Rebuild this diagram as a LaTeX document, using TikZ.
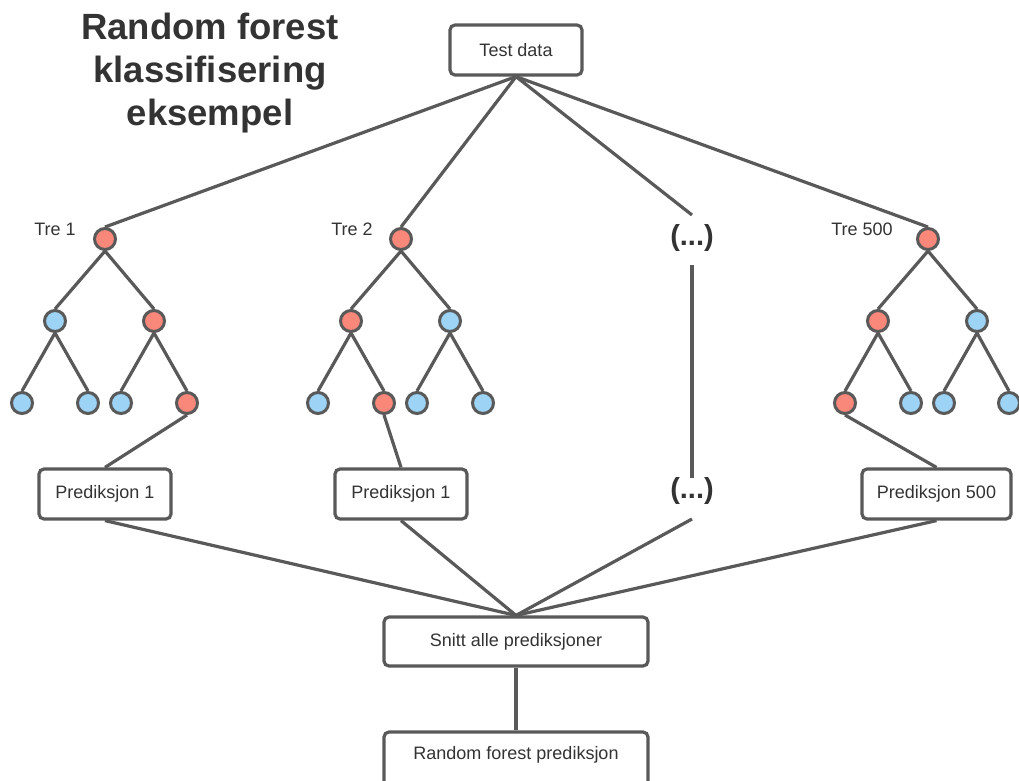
\documentclass[tikz,border=0pt]{standalone}
\usepackage{fontspec}
\setmainfont{Liberation Sans}
\usetikzlibrary{backgrounds}
\definecolor{ln}{HTML}{595959}
\definecolor{tx}{HTML}{333333}
\definecolor{rd}{HTML}{F9877A}
\definecolor{bl}{HTML}{9DD3F5}
\begin{document}
\begin{tikzpicture}[x=1pt,y=-1pt,
  box/.style={draw=ln,line width=3.2pt,fill=white,rounded corners=5pt,minimum width=132pt,minimum height=50pt,inner sep=0pt,text=tx,font=\fontsize{18}{21}\selectfont},
  wbox/.style={box,minimum width=264pt,minimum height=49pt},
  rn/.style={circle,draw=ln,line width=3pt,fill=rd,minimum size=21pt,inner sep=0pt},
  bn/.style={circle,draw=ln,line width=3pt,fill=bl,minimum size=21pt,inner sep=0pt},
  lbl/.style={text=tx,font=\fontsize{18}{21}\selectfont,inner sep=0pt},
  dots/.style={text=tx,font=\bfseries\fontsize{29}{33}\selectfont,inner sep=0pt},
  edge/.style={line width=3.2pt,draw=ln}]
\useasboundingbox (0,0) rectangle (1019,780);
\begin{scope}
\clip (0,0) rectangle (1019,780);
% title
\node[text=tx,font=\bfseries\fontsize{36.5}{43}\selectfont,align=center,inner sep=0pt] (title) at (210,73) {Random forest\\klassifisering\\eksempel};
% boxes
\node[box] (td) at (516,50) {Test data};
\node[box] (p1) at (105,494) {Prediksjon 1};
\node[box] (p2) at (401,494) {Prediksjon 1};
\node[box,minimum width=149pt] (p500) at (936.5,494) {Prediksjon 500};
\node[wbox] (snitt) at (516,641.5) {Snitt alle prediksjoner};
\node[wbox,minimum height=60pt] (rf) at (516,762) {};
\node[lbl] (rft) at (516,755) {Random forest prediksjon};
% dots
\node[dots] (d1) at (692,238) {(...)};
\node[dots] (d2) at (692,491) {(...)};
\coordinate (d1a) at (692,215);
\coordinate (d1b) at (692,265);
\coordinate (d2a) at (692,478);
\coordinate (d2b) at (692,519);
% labels
\node[lbl] (l1) at (55,229) {Tre 1};
\node[lbl] (l2) at (352,229) {Tre 2};
\node[lbl] (l500) at (862,229) {Tre 500};
% tree 1
\node[rn] (a0) at (105,239) {};
\node[bn] (a1) at (55,321) {};
\node[rn] (a2) at (154,321) {};
\node[bn] (a3) at (22,403) {};
\node[bn] (a4) at (88,403) {};
\node[bn] (a5) at (121,403) {};
\node[rn] (a6) at (187,403) {};
% tree 2
\node[rn] (b0) at (401,239) {};
\node[rn] (b1) at (351,321) {};
\node[bn] (b2) at (450,321) {};
\node[bn] (b3) at (318,403) {};
\node[rn] (b4) at (384,403) {};
\node[bn] (b5) at (417,403) {};
\node[bn] (b6) at (483,403) {};
% tree 500
\node[rn] (c0) at (928,239) {};
\node[rn] (c1) at (878,321) {};
\node[bn] (c2) at (977,321) {};
\node[rn] (c3) at (845,403) {};
\node[bn] (c4) at (911,403) {};
\node[bn] (c5) at (944,403) {};
\node[bn] (c6) at (1009,403) {};
% edges
\begin{pgfonlayer}{background}
\draw[edge] (td.south) -- (a0.north);
\draw[edge] (td.south) -- (b0.north);
\draw[edge] (td.south) -- (d1a);
\draw[edge] (td.south) -- (c0.north);
\draw[edge] (a0.south) -- (a1.north) (a0.south) -- (a2.north)
  (a1.south) -- (a3.north) (a1.south) -- (a4.north)
  (a2.south) -- (a5.north) (a2.south) -- (a6.north);
\draw[edge] (b0.south) -- (b1.north) (b0.south) -- (b2.north)
  (b1.south) -- (b3.north) (b1.south) -- (b4.north)
  (b2.south) -- (b5.north) (b2.south) -- (b6.north);
\draw[edge] (c0.south) -- (c1.north) (c0.south) -- (c2.north)
  (c1.south) -- (c3.north) (c1.south) -- (c4.north)
  (c2.south) -- (c5.north) (c2.south) -- (c6.north);
\draw[edge] (a6.south) -- (p1.north);
\draw[edge] (b4.south) -- (p2.north);
\draw[edge] (c3.south) -- (p500.north);
\draw[edge] (d1b) -- (d2a);
\draw[edge] (p1.south) -- (snitt.north);
\draw[edge] (p2.south) -- (snitt.north);
\draw[edge] (d2b) -- (snitt.north);
\draw[edge] (p500.south) -- (snitt.north);
\draw[edge] (snitt.south) -- (rf.north);
\end{pgfonlayer}
\end{scope}
\end{tikzpicture}
\end{document}
